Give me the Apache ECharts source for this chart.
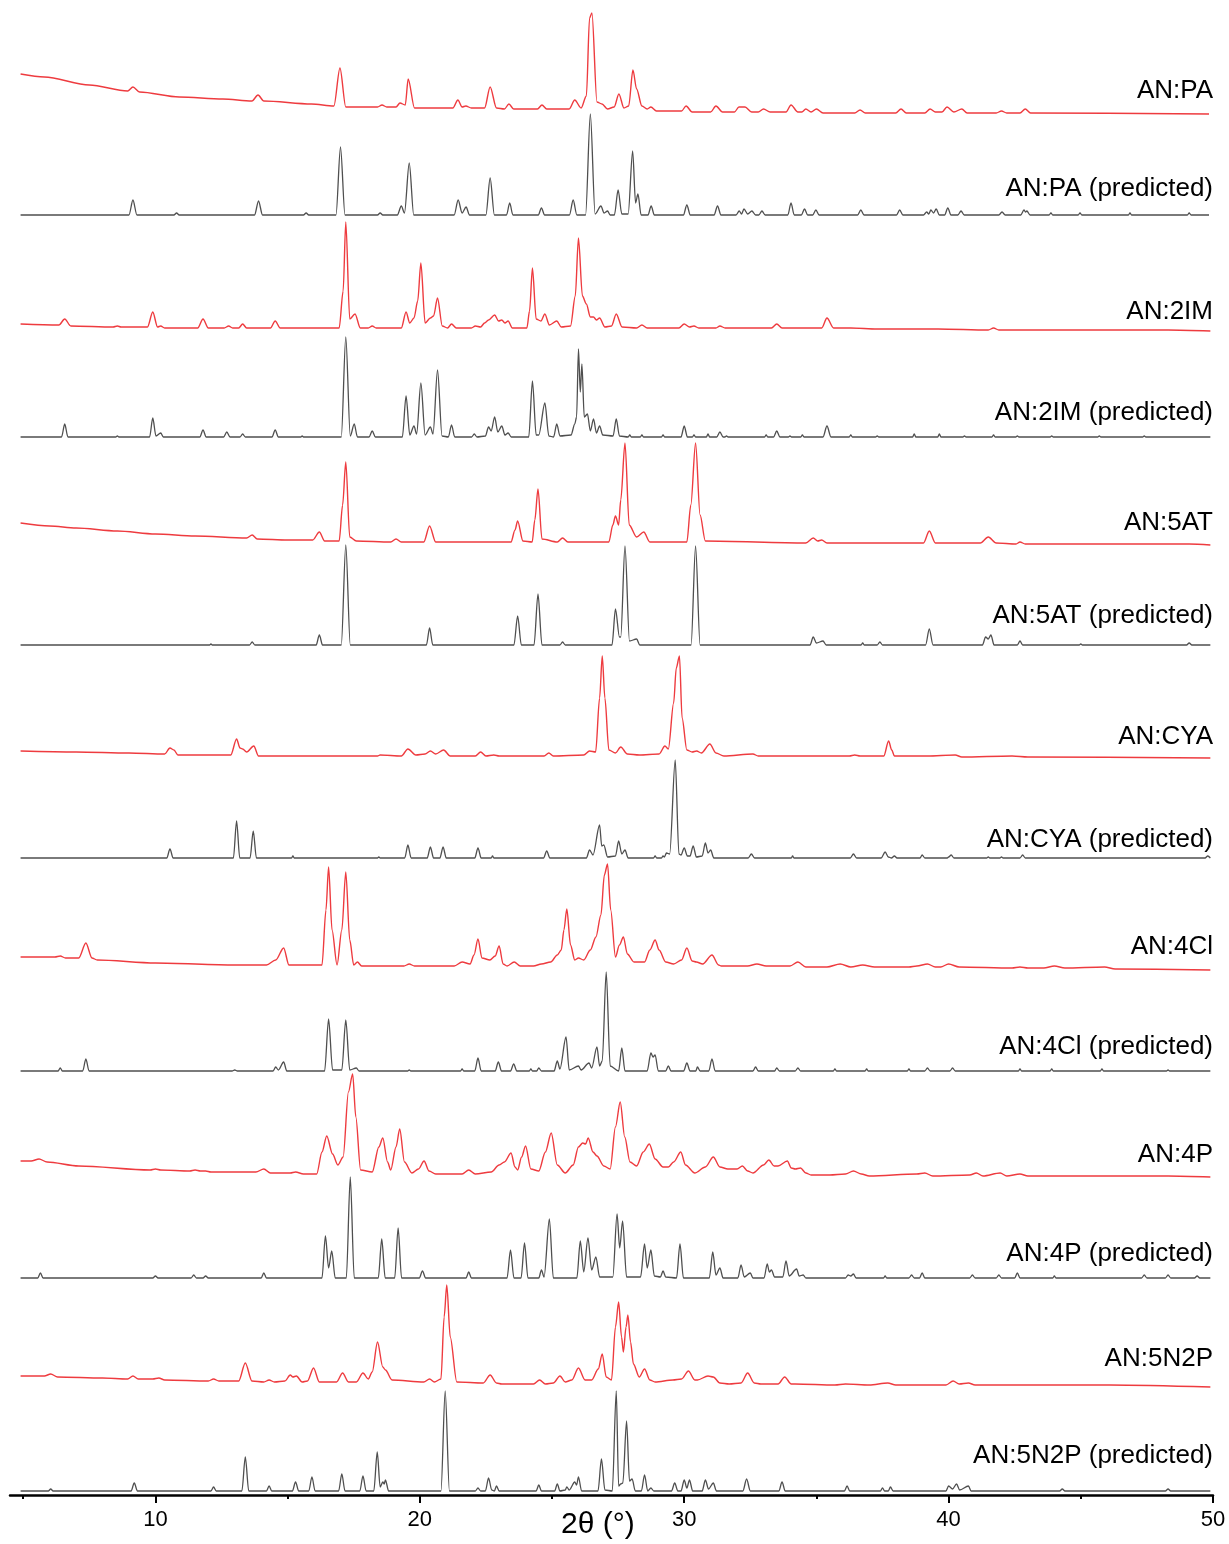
<!DOCTYPE html>
<html><head><meta charset="utf-8">
<style>html,body{margin:0;padding:0;background:#fff}#c{width:1229px;height:1544px}</style>
<script src="https://cdn.jsdelivr.net/npm/echarts@6/dist/echarts.min.js"></script>
</head><body><div id="c"></div>
<script>
// ---- DATA: 2θ (deg) vs intensity (arbitrary units, relative to each trace's own baseline) ----
const xMajorTicks = [10, 20, 30, 40, 50];
const xMinorTicks = [5, 15, 25, 35, 45];
const traceNames = ['AN:PA','AN:PA (predicted)','AN:2IM','AN:2IM (predicted)','AN:5AT','AN:5AT (predicted)','AN:CYA','AN:CYA (predicted)','AN:4Cl','AN:4Cl (predicted)','AN:4P','AN:4P (predicted)','AN:5N2P','AN:5N2P (predicted)'];
const traceOffsets = [1381,1280,1164,1058,950,850,737,637,525,424,318,217,108,4];

const PA_EXP = [[4.9,40],[5.8,37],[7.5,29],[8.95,23],[9.15,27],[9.4,22],[10.9,17],[12.55,15],[13.65,13],[13.88,19],[14.1,13],[15.9,10],[16.75,8],[16.98,46],[17.2,7],[18.4,7],[18.57,9],[18.75,7],[19.1,7],[19.25,11],[19.45,9],[19.56,35],[19.8,6],[21.25,6],[21.44,14],[21.6,7],[21.74,8],[21.95,6],[22.45,6],[22.66,27],[22.9,6],[23.2,5],[23.37,10],[23.55,5],[24.45,5],[24.62,9],[24.8,5],[25.65,5],[25.86,14],[26.1,6],[26.3,18],[26.42,96],[26.51,101],[26.7,12],[26.89,10],[27.1,5],[27.35,7],[27.53,20],[27.72,6],[27.9,8],[28.06,44],[28.2,25],[28.4,8],[28.6,5],[28.74,7],[28.95,3],[29.9,3],[30.07,8],[30.3,2],[31.0,2],[31.2,8],[31.45,2],[31.9,2],[32.07,7],[32.3,7],[32.55,2],[32.8,2],[33.0,5],[33.25,2],[33.85,2],[34.04,9],[34.3,2],[34.45,2],[34.6,5],[34.8,2],[35.0,5],[35.25,1],[36.45,1],[36.65,4],[36.85,1],[38.0,1],[38.2,5],[38.4,1],[39.1,1],[39.3,5],[39.5,2],[39.75,2],[39.94,7],[40.2,2],[40.5,5],[40.7,1],[41.8,1],[42.0,3],[42.2,1],[42.7,1],[42.9,5],[43.1,1],[49.85,0]];
const PA_PRED = [[4.9,0],[9.0,0],[9.15,15],[9.3,0],[10.7,0],[10.8,2],[10.9,0],[13.75,0],[13.9,14],[14.05,0],[15.6,0],[15.7,2],[15.8,0],[16.83,0],[17.0,68],[17.17,0],[18.4,0],[18.5,2],[18.6,0],[19.15,0],[19.3,9],[19.42,2],[19.6,52],[19.77,0],[21.3,0],[21.45,15],[21.6,2],[21.75,8],[21.88,0],[22.5,0],[22.66,37],[22.82,0],[23.28,0],[23.4,12],[23.52,0],[24.48,0],[24.6,7],[24.72,0],[25.66,0],[25.8,15],[25.94,0],[26.27,0],[26.45,101],[26.63,1],[26.85,9],[26.97,2],[27.1,4],[27.2,0],[27.36,0],[27.5,25],[27.64,1],[27.88,1],[28.05,64],[28.16,12],[28.25,21],[28.37,0],[28.63,0],[28.75,9],[28.87,0],[29.97,0],[30.1,10],[30.23,0],[31.13,0],[31.26,9],[31.39,0],[31.96,0],[32.08,4],[32.17,1],[32.26,6],[32.4,1],[32.56,4],[32.7,0],[32.82,0],[32.94,4],[33.06,0],[33.92,0],[34.04,12],[34.16,0],[34.43,0],[34.55,6],[34.67,0],[34.86,0],[34.98,5],[35.1,0],[36.56,0],[36.68,5],[36.8,0],[38.03,0],[38.15,5],[38.27,0],[39.05,0],[39.17,3],[39.25,1],[39.33,5],[39.43,2],[39.53,6],[39.65,0],[39.85,0],[39.97,7],[40.09,0],[40.35,0],[40.47,4],[40.59,0],[41.9,0],[42.02,3],[42.14,0],[42.73,0],[42.85,5],[42.91,3],[42.96,4],[43.08,0],[43.8,0],[43.87,2],[43.94,0],[44.9,0],[44.97,2],[45.04,0],[46.8,0],[46.86,2],[46.92,0],[49.03,0],[49.1,2],[49.17,0],[49.85,0]];
const IM2_EXP = [[4.9,7],[6.35,6],[6.57,12],[6.8,5],[8.4,4],[8.56,5],[8.7,4],[9.7,4],[9.9,19],[10.08,4],[10.2,5],[10.35,3],[11.6,3],[11.8,12],[12.0,3],[12.6,3],[12.77,5],[12.92,3],[13.15,3],[13.3,7],[13.45,3],[14.35,3],[14.53,10],[14.72,3],[16.95,3],[17.1,40],[17.2,109],[17.35,12],[17.55,17],[17.75,3],[18.05,3],[18.2,5],[18.35,3],[19.3,3],[19.48,19],[19.62,8],[19.78,13],[19.92,30],[20.04,68],[20.2,8],[20.4,13],[20.52,15],[20.67,33],[20.85,5],[21.05,3],[21.2,7],[21.38,3],[21.95,3],[22.1,5],[22.3,4],[22.45,8],[22.6,11],[22.83,16],[22.98,10],[23.1,11],[23.22,8],[23.34,10],[23.5,3],[24.05,3],[24.15,20],[24.26,63],[24.4,12],[24.58,10],[24.73,17],[24.9,6],[25.18,10],[25.35,4],[25.7,5],[25.88,35],[26.0,93],[26.15,35],[26.3,27],[26.45,14],[26.57,14],[26.68,11],[26.8,13],[27.0,4],[27.25,5],[27.43,17],[27.65,4],[28.2,3],[28.4,6],[28.6,3],[29.2,3],[29.33,3],[29.8,3],[30.0,7],[30.2,4],[30.37,5],[30.55,3],[31.2,3],[31.35,5],[31.55,3],[33.3,3],[33.5,7],[33.7,3],[34.47,3],[35.2,3],[35.4,13],[35.65,3],[36.3,3],[37.3,2],[38.7,2],[39.6,2],[41.5,1],[41.7,3],[41.9,1],[43.7,1],[45.8,1],[48.3,1],[49.9,0]];
const IM2_PRED = [[4.9,0],[6.45,0],[6.57,13],[6.69,0],[8.5,0],[8.56,1],[8.62,0],[9.78,0],[9.9,19],[10.02,1],[10.2,4],[10.3,0],[11.68,0],[11.8,7],[11.92,0],[12.58,0],[12.7,5],[12.82,0],[13.2,0],[13.3,3],[13.4,0],[14.41,0],[14.53,7],[14.65,0],[15.5,0],[15.55,1],[15.6,0],[17.03,0],[17.2,100],[17.37,1],[17.52,13],[17.64,0],[18.08,0],[18.2,6],[18.32,0],[19.34,0],[19.48,41],[19.62,2],[19.78,11],[19.88,3],[20.04,54],[20.2,2],[20.4,10],[20.5,3],[20.67,67],[20.84,1],[21.08,0],[21.2,12],[21.32,0],[21.96,0],[22.06,3],[22.16,0],[22.48,1],[22.6,10],[22.7,6],[22.83,20],[22.95,5],[23.1,11],[23.22,2],[23.34,4],[23.46,0],[24.12,0],[24.26,56],[24.4,2],[24.5,2],[24.73,34],[24.88,1],[25.06,0],[25.18,13],[25.3,1],[25.72,2],[25.86,13],[25.93,20],[26.0,88],[26.07,45],[26.13,73],[26.22,20],[26.34,23],[26.45,6],[26.57,18],[26.68,4],[26.8,11],[26.92,2],[27.31,1],[27.43,18],[27.55,1],[27.88,0],[27.94,2],[28.0,0],[28.34,0],[28.4,2],[28.46,0],[29.14,0],[29.2,2],[29.26,0],[29.88,0],[30.0,11],[30.12,0],[30.31,0],[30.37,2],[30.43,0],[30.84,0],[30.9,3],[30.96,0],[31.23,0],[31.35,5],[31.47,0],[31.54,0],[31.6,1],[31.66,0],[33.04,0],[33.1,2],[33.16,0],[33.38,0],[33.5,6],[33.62,0],[33.94,0],[34.0,1],[34.06,0],[34.41,0],[34.47,2],[34.53,0],[35.25,0],[35.4,11],[35.55,0],[36.24,0],[36.3,2],[36.36,0],[37.24,0],[37.3,1],[37.36,0],[38.64,0],[38.7,3],[38.76,0],[39.59,0],[39.65,3],[39.71,0],[40.54,0],[40.6,1],[40.66,0],[41.64,0],[41.7,2],[41.76,0],[42.54,0],[42.6,1],[42.66,0],[43.84,0],[43.9,1],[43.96,0],[45.64,0],[45.7,1],[45.76,0],[47.34,0],[47.4,1],[47.46,0],[49.9,0]];
const AT5_EXP = [[4.9,22],[6.0,19],[7.0,17],[8.56,14],[10.0,11],[11.5,9],[13.45,7],[13.66,10],[13.85,6],[15.0,5],[15.95,5],[16.2,13],[16.4,4],[16.95,4],[17.08,40],[17.2,83],[17.35,8],[17.6,4],[18.9,3],[19.1,6],[19.3,3],[20.15,3],[20.37,19],[20.6,3],[23.45,3],[23.6,15],[23.7,24],[23.9,4],[24.25,3],[24.35,25],[24.47,56],[24.62,6],[25.2,3],[25.4,7],[25.6,3],[27.15,3],[27.3,20],[27.4,29],[27.52,20],[27.6,45],[27.76,102],[27.92,20],[28.2,8],[28.47,13],[28.7,3],[30.1,3],[30.25,40],[30.43,102],[30.6,30],[30.8,4],[34.6,2],[34.88,7],[35.05,4],[35.2,5],[35.4,2],[36.75,2],[37.5,2],[39.05,2],[39.27,14],[39.5,2],[41.2,2],[41.5,8],[41.8,2],[42.55,1],[42.7,3],[42.9,1],[49.1,1],[49.9,0]];
const AT5_PRED = [[4.9,0],[12.05,0],[12.1,1],[12.15,0],[13.56,0],[13.66,3],[13.76,0],[16.08,0],[16.2,10],[16.32,0],[17.03,0],[17.2,100],[17.37,0],[20.25,0],[20.37,17],[20.49,0],[23.56,0],[23.7,29],[23.84,0],[24.32,0],[24.47,51],[24.62,0],[25.3,0],[25.4,3],[25.5,0],[27.27,0],[27.4,36],[27.55,8],[27.6,8],[27.76,99],[27.93,4],[28.2,6],[28.32,0],[30.26,0],[30.43,99],[30.6,0],[34.76,0],[34.88,8],[35.0,2],[35.25,4],[35.37,0],[36.69,0],[36.75,2],[36.81,0],[37.3,0],[37.4,3],[37.5,0],[39.13,0],[39.27,16],[39.41,0],[41.28,0],[41.4,8],[41.5,6],[41.6,10],[41.72,0],[42.6,0],[42.7,4],[42.8,0],[44.94,0],[45.0,1],[45.06,0],[49.0,0],[49.1,2],[49.2,0],[49.9,0]];
const CYA_EXP = [[4.9,7],[7.0,6],[9.0,5],[10.35,4],[10.55,10],[10.7,8],[10.85,3],[12.0,3],[12.85,3],[13.07,19],[13.2,10],[13.3,9],[13.45,6],[13.72,12],[13.9,2],[15.0,2],[15.2,2],[18.4,2],[18.5,3],[19.3,2],[19.55,9],[19.85,3],[20.2,4],[20.4,7],[20.6,4],[20.9,8],[21.15,2],[22.1,2],[22.3,6],[22.5,2],[22.8,3],[23.0,2],[24.7,2],[24.88,5],[25.05,2],[26.2,3],[26.42,7],[26.65,6],[26.8,60],[26.9,102],[27.0,60],[27.15,8],[27.4,5],[27.6,11],[27.85,4],[28.3,3],[29.05,4],[29.27,12],[29.4,9],[29.6,55],[29.7,90],[29.82,102],[29.92,40],[30.1,8],[30.3,6],[30.47,7],[30.65,5],[30.97,14],[31.2,5],[31.5,2],[32.6,4],[32.8,2],[36.25,2],[36.45,3],[36.65,2],[37.55,2],[37.73,17],[37.85,8],[37.95,2],[38.7,2],[39.2,2],[40.25,3],[40.5,1],[42.4,2],[43.0,1],[49.9,0]];
const CYA_PRED = [[4.9,0],[10.43,0],[10.55,9],[10.67,0],[12.95,0],[13.07,37],[13.19,0],[13.58,0],[13.7,27],[13.82,0],[15.15,0],[15.2,2],[15.25,0],[18.4,0],[18.45,1],[18.5,0],[19.43,0],[19.55,13],[19.67,0],[20.28,0],[20.4,11],[20.52,0],[20.76,0],[20.88,11],[21.0,0],[22.08,0],[22.2,10],[22.32,0],[22.7,0],[22.75,2],[22.8,0],[24.68,0],[24.8,7],[24.92,0],[26.3,0],[26.42,8],[26.55,3],[26.8,33],[26.88,12],[26.96,13],[27.1,1],[27.4,2],[27.52,17],[27.64,4],[27.76,8],[27.88,0],[28.84,0],[28.9,2],[28.96,0],[29.14,0],[29.2,2],[29.25,1],[29.33,5],[29.45,4],[29.66,98],[29.8,4],[29.88,3],[30.0,10],[30.12,2],[30.22,2],[30.34,12],[30.46,1],[30.68,2],[30.8,15],[30.9,5],[31.0,8],[31.12,0],[32.42,0],[32.54,4],[32.66,0],[34.05,0],[34.1,2],[34.15,0],[36.28,0],[36.4,4],[36.52,0],[37.45,0],[37.6,6],[37.72,1],[37.84,0],[37.95,2],[38.05,0],[38.92,0],[39.0,3],[39.1,0],[39.95,0],[40.0,1],[40.1,3],[40.2,0],[41.44,0],[41.5,1],[41.56,0],[41.94,0],[42.0,1],[42.06,0],[42.7,0],[42.8,3],[42.9,0],[49.7,0],[49.8,2],[49.9,0]];
const CL4_EXP = [[4.9,13],[6.2,13],[6.4,14],[6.6,12],[7.1,12],[7.37,27],[7.6,12],[7.8,10],[10.0,7],[13.0,5],[14.2,5],[14.55,10],[14.85,22],[15.05,5],[16.3,5],[16.45,60],[16.55,103],[16.68,40],[16.87,5],[17.05,40],[17.2,98],[17.35,30],[17.5,5],[17.64,8],[17.8,4],[19.4,4],[19.6,6],[19.8,4],[21.3,4],[21.6,8],[21.9,6],[22.05,15],[22.2,31],[22.35,12],[22.65,10],[22.85,14],[23.0,24],[23.15,6],[23.3,4],[23.57,8],[23.8,4],[24.3,4],[24.6,6],[24.95,8],[25.2,15],[25.35,20],[25.45,40],[25.56,61],[25.7,25],[25.86,10],[26.0,12],[26.2,10],[26.45,20],[26.66,33],[26.85,55],[26.98,95],[27.1,106],[27.22,60],[27.4,13],[27.55,25],[27.7,33],[27.85,16],[28.1,8],[28.5,8],[28.7,20],[28.9,30],[29.05,20],[29.3,8],[29.6,6],[29.9,10],[30.1,22],[30.3,9],[30.46,8],[30.7,6],[31.05,15],[31.3,5],[31.4,4],[32.4,4],[32.75,6],[33.1,4],[33.6,4],[34.0,4],[34.3,8],[34.6,3],[35.0,3],[35.4,3],[35.9,6],[36.3,3],[36.75,5],[37.2,3],[38.5,3],[38.8,4],[39.2,6],[39.5,3],[39.7,3],[40.0,6],[40.4,3],[42.4,2],[42.7,3],[43.0,2],[43.6,2],[44.0,4],[44.4,2],[45.9,3],[46.3,1],[49.9,0]];
const CL4_PRED = [[4.9,0],[6.32,0],[6.4,3],[6.48,0],[7.25,0],[7.37,12],[7.49,0],[12.9,0],[13.0,1],[13.1,0],[14.45,0],[14.55,4],[14.65,1],[14.85,9],[14.97,0],[16.4,0],[16.55,52],[16.7,1],[17.05,1],[17.2,51],[17.35,1],[17.6,3],[17.7,0],[19.54,0],[19.6,1],[19.66,0],[21.54,0],[21.6,2],[21.66,0],[22.08,0],[22.2,13],[22.32,0],[22.85,0],[22.97,9],[23.09,0],[23.43,0],[23.55,7],[23.67,0],[24.14,0],[24.2,2],[24.26,0],[24.42,0],[24.5,3],[24.6,0],[25.08,0],[25.2,10],[25.3,2],[25.53,34],[25.65,1],[26.0,5],[26.1,1],[26.4,8],[26.5,3],[26.7,24],[26.8,5],[26.9,10],[27.05,99],[27.2,5],[27.52,0],[27.64,23],[27.76,0],[28.6,0],[28.74,18],[28.82,14],[28.9,16],[29.02,0],[29.3,0],[29.4,5],[29.5,0],[29.98,0],[30.1,8],[30.22,0],[30.44,0],[30.5,4],[30.6,0],[30.93,0],[31.05,12],[31.17,0],[32.6,0],[32.7,4],[32.8,0],[33.42,0],[33.5,3],[33.6,0],[34.2,0],[34.3,3],[34.4,0],[35.64,0],[35.7,2],[35.76,0],[36.84,0],[36.9,2],[36.96,0],[38.44,0],[38.5,2],[38.56,0],[39.1,0],[39.2,3],[39.3,0],[40.05,0],[40.15,3],[40.25,0],[42.64,0],[42.7,2],[42.76,0],[43.84,0],[43.9,2],[43.96,0],[45.74,0],[45.8,2],[45.86,0],[48.24,0],[48.3,1],[48.36,0],[49.9,0]];
const P4_EXP = [[4.9,16],[5.3,16],[5.6,18],[5.9,15],[7.1,11],[9.8,7],[10.0,8],[10.2,7],[11.3,6],[11.5,7],[11.7,6],[11.9,6],[12.1,5],[13.8,5],[14.1,8],[14.35,4],[15.1,4],[15.3,5],[15.6,3],[16.1,3],[16.3,25],[16.48,41],[16.7,23],[16.9,12],[17.1,20],[17.3,85],[17.46,103],[17.58,60],[17.76,7],[18.2,5],[18.45,30],[18.6,39],[18.78,15],[18.9,7],[19.1,30],[19.24,48],[19.42,15],[19.7,4],[19.95,8],[20.16,16],[20.35,6],[20.6,3],[21.6,3],[21.85,7],[22.1,3],[22.7,5],[23.0,12],[23.2,15],[23.45,24],[23.6,10],[23.7,7],[23.85,20],[24.0,31],[24.2,8],[24.5,6],[24.75,25],[24.97,44],[25.2,12],[25.5,4],[25.8,12],[26.0,30],[26.16,34],[26.27,33],[26.37,39],[26.55,25],[26.7,21],[26.96,11],[27.2,8],[27.4,50],[27.58,75],[27.75,40],[27.95,15],[28.2,11],[28.45,25],[28.68,33],[28.9,18],[29.2,10],[29.4,10],[29.6,15],[29.87,25],[30.05,12],[30.4,4],[30.8,10],[31.1,20],[31.35,10],[31.65,8],[32.0,8],[32.2,11],[32.4,6],[32.6,4],[33.0,12],[33.2,17],[33.4,11],[33.55,11],[33.9,16],[34.05,9],[34.2,8],[34.4,9],[34.6,4],[34.8,2],[35.5,2],[36.1,3],[36.4,6],[36.7,3],[37.0,1],[38.8,3],[39.1,4],[39.4,1],[40.8,2],[41.05,4],[41.3,1],[41.95,4],[42.2,1],[42.7,3],[43.0,1],[47.1,1],[48.3,1],[49.9,0]];
const P4_PRED = [[4.9,0],[5.55,0],[5.65,5],[5.75,0],[9.9,0],[10.0,2],[10.1,0],[11.35,0],[11.45,3],[11.55,0],[11.8,0],[11.9,2],[12.0,0],[14.0,0],[14.1,5],[14.2,0],[16.3,0],[16.43,42],[16.55,10],[16.67,27],[16.8,0],[17.22,0],[17.37,101],[17.52,0],[18.43,0],[18.56,39],[18.69,0],[19.05,0],[19.18,50],[19.31,0],[19.98,0],[20.1,7],[20.22,0],[21.75,0],[21.85,6],[21.95,0],[23.3,0],[23.43,28],[23.56,0],[23.83,0],[23.96,35],[24.09,0],[24.5,0],[24.6,8],[24.7,1],[24.9,59],[25.05,0],[25.94,0],[26.07,37],[26.2,6],[26.36,40],[26.5,8],[26.66,21],[26.8,1],[27.3,1],[27.46,64],[27.56,30],[27.67,57],[27.82,1],[28.35,1],[28.5,34],[28.6,10],[28.74,28],[28.87,2],[29.1,1],[29.2,7],[29.3,1],[29.71,0],[29.84,34],[29.97,0],[30.95,0],[31.08,26],[31.2,3],[31.35,10],[31.47,0],[32.03,0],[32.15,13],[32.27,1],[32.5,5],[32.6,0],[33.02,0],[33.14,14],[33.22,6],[33.3,8],[33.42,1],[33.73,1],[33.85,17],[33.97,2],[34.25,9],[34.35,2],[34.5,3],[34.6,0],[36.1,0],[36.2,3],[36.3,2],[36.4,4],[36.5,0],[37.54,0],[37.6,2],[37.66,0],[38.5,0],[38.6,3],[38.7,0],[38.9,0],[39.0,5],[39.1,0],[40.8,0],[40.9,3],[41.0,0],[41.8,0],[41.9,3],[42.0,0],[42.5,0],[42.6,5],[42.7,0],[43.94,0],[44.0,2],[44.06,0],[47.3,0],[47.4,3],[47.5,0],[48.2,0],[48.3,3],[48.4,0],[49.3,0],[49.4,2],[49.5,0],[49.9,0]];
const N2P5_EXP = [[4.9,11],[5.8,11],[6.04,13],[6.3,10],[8.0,9],[8.95,8],[9.15,11],[9.35,8],[9.9,8],[10.13,9],[10.35,7],[12.0,6],[12.2,8],[12.4,6],[13.15,6],[13.4,24],[13.65,6],[14.1,5],[14.3,7],[14.5,5],[14.9,6],[15.1,12],[15.2,10],[15.33,11],[15.55,5],[15.75,6],[15.98,19],[16.2,5],[16.85,5],[17.08,14],[17.3,5],[17.6,5],[17.85,14],[18.05,8],[18.2,15],[18.4,45],[18.6,20],[18.7,17],[18.95,7],[20.15,5],[20.37,8],[20.55,5],[20.8,8],[20.92,70],[21.02,102],[21.15,50],[21.4,5],[22.4,4],[22.66,12],[22.9,4],[23.1,3],[24.3,3],[24.53,7],[24.75,3],[25.05,4],[25.3,11],[25.5,5],[25.75,7],[26.0,19],[26.25,7],[26.5,7],[26.75,18],[26.9,33],[27.05,10],[27.25,7],[27.4,60],[27.52,85],[27.63,50],[27.7,35],[27.8,60],[27.87,72],[27.97,45],[28.08,23],[28.3,10],[28.5,18],[28.7,7],[28.9,5],[29.57,7],[29.9,8],[30.16,16],[30.4,7],[30.5,7],[30.9,11],[31.1,10],[31.35,4],[31.7,3],[32.15,4],[32.4,14],[32.65,4],[32.9,3],[33.55,3],[33.8,10],[34.05,3],[34.2,3],[35.7,2],[36.1,3],[37.0,2],[37.7,4],[38.0,2],[39.9,2],[40.17,6],[40.4,3],[40.75,4],[41.0,2],[42.1,2],[44.3,2],[46.1,2],[49.9,0]];
const N2P5_PRED = [[4.9,0],[5.95,0],[6.04,2],[6.13,0],[9.08,0],[9.2,8],[9.32,0],[12.1,0],[12.2,4],[12.3,0],[13.27,0],[13.4,34],[13.53,0],[14.2,0],[14.3,5],[14.4,0],[15.18,0],[15.3,9],[15.42,0],[15.8,0],[15.92,14],[16.04,0],[16.93,0],[17.05,17],[17.17,0],[17.73,0],[17.85,15],[17.97,0],[18.26,0],[18.39,39],[18.5,4],[18.6,9],[18.65,7],[18.7,11],[18.82,0],[20.8,0],[20.96,100],[21.12,0],[22.1,0],[22.2,3],[22.3,0],[22.48,0],[22.6,13],[22.72,1],[22.82,0],[22.9,5],[23.0,0],[24.4,0],[24.5,6],[24.6,0],[25.1,0],[25.2,7],[25.3,0],[25.5,1],[25.56,4],[25.65,1],[25.86,9],[25.93,6],[26.0,14],[26.12,0],[26.74,0],[26.87,32],[27.0,1],[27.28,0],[27.43,100],[27.52,5],[27.6,7],[27.68,8],[27.82,70],[27.93,10],[28.03,12],[28.15,0],[28.38,0],[28.5,16],[28.62,0],[28.74,3],[28.85,0],[29.52,0],[29.64,8],[29.76,0],[29.88,0],[30.0,11],[30.1,3],[30.2,11],[30.32,0],[30.68,0],[30.8,11],[30.92,2],[31.1,8],[31.22,0],[32.22,0],[32.36,12],[32.5,0],[33.58,0],[33.7,9],[33.82,0],[36.06,0],[36.16,5],[36.26,0],[37.42,0],[37.5,3],[37.58,0],[37.72,0],[37.8,4],[37.9,0],[39.9,0],[40.0,5],[40.15,2],[40.3,7],[40.42,1],[40.75,5],[40.85,0],[44.2,0],[44.3,2],[44.4,0],[48.2,0],[48.3,2],[48.4,0],[49.9,0]];

const traceData = [PA_EXP, PA_PRED, IM2_EXP, IM2_PRED, AT5_EXP, AT5_PRED, CYA_EXP, CYA_PRED, CL4_EXP, CL4_PRED, P4_EXP, P4_PRED, N2P5_EXP, N2P5_PRED];

// ---- LAYOUT / STYLE ----
const labelPixelY = [92, 190, 313, 414, 524, 617, 738, 841, 948, 1048, 1156, 1255, 1360, 1457];
const RED = '#ee3b3f', GRAY = '#4f4f4f';
const FONT = '"Liberation Sans", Arial, sans-serif';

const chart = echarts.init(document.getElementById('c'), null, {renderer: 'canvas'});
const series = traceData.map((arr, i) => ({
  type: 'line', name: traceNames[i], xAxisIndex: 0, yAxisIndex: 0,
  data: arr.map(p => [p[0], p[1] + traceOffsets[i]]),
  showSymbol: false, symbol: 'none', smooth: 0.3, smoothMonotone: 'x', silent: true,
  lineStyle: {color: i % 2 === 0 ? RED : GRAY, width: i % 2 === 0 ? 1.4 : 1.3},
  z: 2
}));

chart.setOption({
  animation: false,
  backgroundColor: '#fff',
  grid: {left: 10, right: 16, top: 0, bottom: 49, containLabel: false},
  xAxis: [{
    type: 'value', min: 4.5, max: 50, position: 'bottom',
    axisLine: {show: true, lineStyle: {color: '#000', width: 2.5}},
    axisTick: {show: true, customValues: xMajorTicks, length: 8, lineStyle: {color: '#000', width: 2}},
    axisLabel: {show: true, customValues: xMajorTicks, color: '#000', fontSize: 22, fontFamily: FONT, margin: 14},
    splitLine: {show: false}
  }, {
    type: 'value', min: 4.5, max: 50, position: 'bottom',
    axisLine: {show: false},
    axisTick: {show: true, customValues: xMinorTicks, length: 4, lineStyle: {color: '#000', width: 2}},
    axisLabel: {show: false},
    splitLine: {show: false}
  }],
  yAxis: {type: 'value', min: 0, max: 1495, show: false, splitLine: {show: false}},
  graphic: traceNames.map((t, i) => ({
    type: 'text', right: 16, top: labelPixelY[i] - 14,
    style: {text: t, fill: '#000', font: '26px ' + FONT}
  })).concat([{
    type: 'text', left: 600 - 39, top: 1510,
    style: {text: '2θ (°)', fill: '#000', font: '30px ' + FONT}
  }]),
  series: series
});
</script></body></html>
